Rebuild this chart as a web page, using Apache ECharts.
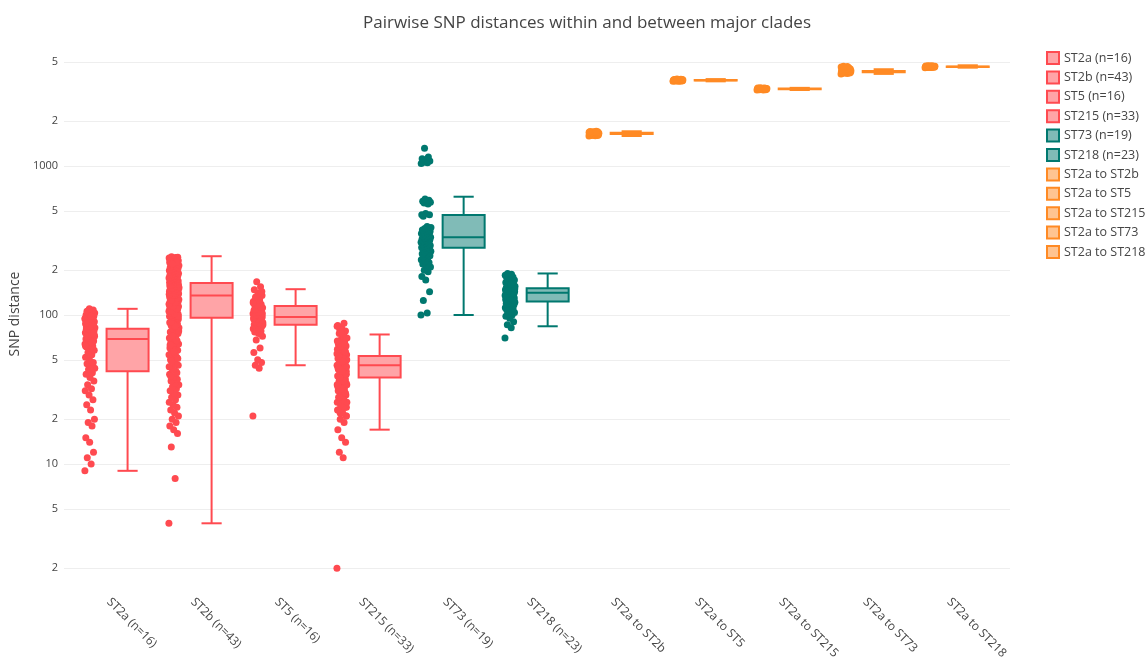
<!DOCTYPE html>
<html>
<head>
<meta charset="utf-8">
<script src="https://cdn.jsdelivr.net/npm/echarts@6/dist/echarts.min.js"></script>
<style>
html, body { margin: 0; padding: 0; background: #fff; }
#chart { width: 1148px; height: 662px; }
</style>
</head>
<body>
<div id="chart"></div>
<script>
// groups, left to right
var categories = ['ST2a (n=16)', 'ST2b (n=43)', 'ST5 (n=16)', 'ST215 (n=33)', 'ST73 (n=19)', 'ST218 (n=23)',
  'ST2a to ST2b', 'ST2a to ST5', 'ST2a to ST215', 'ST2a to ST73', 'ST2a to ST218'];

// box statistics
var boxLow    = [9,   4,   46,  17,  100, 84,  1590, 3700, 3235, 4150, 4570];
var boxQ1     = [42,  96,  86,  38,  283, 123, 1640, 3742, 3270, 4255, 4618];
var boxMedian = [69,  135, 97,  46,  332, 141, 1656, 3758, 3288, 4296, 4636];
var boxQ3     = [81,  164, 115, 53,  469, 151, 1672, 3776, 3306, 4340, 4658];
var boxHigh   = [110, 248, 149, 74,  622, 190, 1710, 3830, 3345, 4460, 4740];

// pairwise distances (points), estimated
var st2aPts = [9, 10, 11, 12, 14, 15, 18, 19, 20, 23, 25, 27, 29, 31, 32, 34, 36, 38, 40,
  41, 43, 44, 46, 47, 48, 50, 52, 54, 56, 58, 60, 61, 62, 63, 64, 65, 66, 67, 68,
  69, 70, 71, 72, 73, 73, 74, 75, 76, 77, 77, 78, 79, 80, 80, 81,
  82, 83, 84, 85, 86, 87, 88, 89, 90, 91, 92, 93, 94, 95, 96, 97, 98, 99, 100, 101, 102, 103, 105, 106, 108, 110,
  62, 66, 70, 74, 78, 82, 86, 90, 94, 98, 72, 76, 84, 88];
var st2bPts = [4, 8, 13, 16, 17, 18, 19, 20, 21, 22, 23, 24, 25, 26, 27, 28, 29, 30, 31, 32, 33, 34, 35, 36, 37, 38,
  40, 42, 44, 46, 48, 50, 52, 53, 54, 55, 56, 58, 59, 60, 61, 62, 64, 65, 66, 67, 69, 70, 71, 73, 75, 76, 77, 79,
  81, 82, 83, 85, 87, 88, 89, 91, 93, 94, 95, 39, 41, 43, 45, 47, 49, 51, 57, 63, 68, 72, 78, 84, 90,
  96, 97, 98, 99, 100, 101, 102, 103, 104, 105, 106, 107, 108, 109, 110, 111, 112, 113, 114, 115, 116, 117, 118,
  119, 120, 121, 122, 123, 124, 125, 126, 127, 128, 129, 130, 131, 132, 133, 134, 98, 102, 106, 110, 114, 118, 122, 126, 130,
  135, 136, 137, 138, 139, 140, 141, 142, 143, 144, 145, 146, 147, 148, 149, 150, 151, 152, 153, 154, 155, 156, 157,
  158, 159, 160, 161, 162, 163, 136, 138, 140, 142, 144, 146, 148, 150, 152, 154, 156, 158, 160, 162,
  165, 166, 168, 169, 171, 172, 174, 175, 177, 178, 180, 181, 183, 185, 186, 188, 190, 191, 193, 195, 197, 199,
  201, 203, 205, 207, 209, 211, 213, 215, 217, 219, 221, 223, 225, 227, 229, 231, 233, 235, 237, 239, 241, 243,
  246, 244, 238, 232, 226, 220];
var st5Pts = [21, 44, 46, 48, 50, 56, 60, 68, 72, 75, 77, 78, 80, 81, 82, 83, 84, 85, 86, 87, 88, 89, 90, 91, 92, 93, 94, 95,
  96, 97, 98, 99, 100, 101, 102, 103, 104, 105, 106, 107, 108, 110, 112, 114, 116, 118, 120, 123, 126, 130, 135,
  140, 148, 155, 167, 86, 88, 90, 92, 94, 96, 98, 100, 102, 104, 109, 113, 117, 121, 125, 132, 144];
var st215Pts = [2, 11, 12, 14, 15, 17, 19, 20, 21, 22, 23, 24, 25, 26, 27, 28, 29, 30, 31, 32, 33, 34, 35, 36, 37, 38,
  39, 40, 41, 42, 43, 44, 45, 46, 46, 47, 48, 49, 50, 51, 52, 53, 54, 55, 56, 57, 58, 59, 60, 61, 62, 63, 64, 66,
  68, 70, 72, 75, 78, 82, 85, 88, 22, 24, 26, 28, 30, 32, 34, 36, 38, 40, 42, 44, 46, 48, 50, 52, 54, 56,
  58, 23, 27, 31, 35, 39, 43, 47, 51, 55, 60, 65, 70, 29, 33, 37, 41, 45, 49, 53, 57, 62, 67, 74, 80,
  21, 22, 23, 24, 25, 26, 27, 28, 30, 32, 34, 36, 38, 40, 42, 44, 64, 76, 84];
var st73Pts = [100, 103, 125, 143, 172, 181, 195, 200, 210, 215, 220, 225, 230, 235, 240, 245, 250, 255, 258, 262, 265,
  268, 272, 275, 278, 281, 284, 287, 290, 293, 296, 299, 302, 305, 308, 311, 314, 317, 320, 323, 326, 329, 332,
  336, 340, 344, 348, 352, 356, 360, 364, 368, 372, 376, 380, 386, 392, 460, 470, 480, 470,
  555, 565, 570, 575, 580, 590, 600, 1040, 1050, 1060, 1080, 1100, 1120, 1150, 1315];
var st218Pts = [70, 82, 86, 90, 95, 98, 100, 102, 104, 106, 108, 110, 111, 112, 114, 115, 117, 118, 119, 120, 121, 122,
  123, 124, 125, 126, 127, 128, 129, 130, 131, 132, 133, 134, 135, 136, 137, 138, 139, 140, 141, 142, 143, 144,
  145, 146, 147, 148, 149, 150, 151, 152, 153, 154, 155, 156, 158, 160, 161, 163, 165, 167, 170, 172, 175, 178,
  180, 183, 185, 188, 190, 125, 130, 135, 140, 145, 150, 160];
var st2aSt2bPts = [1590, 1595, 1600, 1604, 1608, 1612, 1615, 1618, 1622, 1625, 1628, 1631, 1634, 1637, 1640, 1643, 1645,
  1648, 1650, 1653, 1655, 1658, 1660, 1662, 1664, 1666, 1668, 1670, 1672, 1674, 1676, 1678, 1680, 1683, 1686,
  1689, 1692, 1696, 1700, 1705, 1710];
var st2aSt5Pts = [3700, 3706, 3712, 3718, 3722, 3728, 3732, 3735, 3738, 3742, 3745, 3748, 3750, 3752, 3754, 3756, 3758,
  3760, 3762, 3765, 3768, 3770, 3773, 3776, 3779, 3782, 3786, 3790, 3795, 3800, 3806, 3812, 3820, 3830];
var st2aSt215Pts = [3235, 3240, 3245, 3250, 3255, 3258, 3262, 3266, 3270, 3273, 3276, 3279, 3282, 3285, 3288, 3291,
  3294, 3297, 3300, 3303, 3306, 3310, 3314, 3318, 3322, 3327, 3332, 3338, 3345];
var st2aSt73Pts = [4150, 4170, 4190, 4205, 4220, 4230, 4240, 4248, 4255, 4262, 4270, 4278, 4285, 4290, 4296, 4303, 4310,
  4318, 4325, 4332, 4340, 4350, 4360, 4375, 4390, 4405, 4420, 4440, 4460, 4480, 4500, 4530, 4560, 4590, 4620, 4650, 4680];
var st2aSt218Pts = [4570, 4578, 4585, 4592, 4600, 4605, 4610, 4614, 4618, 4622, 4625, 4628, 4632, 4635, 4638, 4641,
  4644, 4647, 4650, 4654, 4658, 4662, 4666, 4671, 4676, 4683, 4690, 4700, 4710];

var groupPoints = [st2aPts, st2bPts, st5Pts, st215Pts, st73Pts, st218Pts,
  st2aSt2bPts, st2aSt5Pts, st2aSt215Pts, st2aSt73Pts, st2aSt218Pts];

// y ticks (log scale)
var yTickValues = [2, 5, 10, 20, 50, 100, 200, 500, 1000, 2000, 5000];
var yTickLabels = ['2', '5', '10', '2', '5', '100', '2', '5', '1000', '2', '5'];

var RED = '#ff4a50', TEAL = '#00786f', ORANGE = '#ff8a24';
var FILL = { '#ff4a50': '#ffa4a7', '#00786f': '#80bbb7', '#ff8a24': '#ffc491' };
var groupColor = [RED, RED, RED, RED, TEAL, TEAL, ORANGE, ORANGE, ORANGE, ORANGE, ORANGE];

var BOX_OFF = 0.224, PT_OFF = -0.224, JITTER = 0.12;
var FONT = 'Open Sans, DejaVu Sans, sans-serif';

var labelOf = {};
yTickValues.forEach(function (v, i) { labelOf[v] = yTickLabels[i]; });

function jitter(k) {
  // evenly spread offsets across the strip
  return ((k * 0.6180339887) % 1) - 0.5;
}

var series = [];
categories.forEach(function (name, i) {
  var color = groupColor[i];
  series.push({
    name: name,
    type: 'scatter',
    symbolSize: 7,
    itemStyle: { color: color, opacity: 1 },
    silent: true,
    data: groupPoints[i].map(function (v, k) {
      return [i + PT_OFF + jitter(k) * JITTER, Math.log10(v)];
    })
  });
  series.push({
    name: name,
    type: 'custom',
    silent: true,
    itemStyle: { color: FILL[color], borderColor: color, borderWidth: 2 },
    data: [[i, Math.log10(boxLow[i]), Math.log10(boxQ1[i]), Math.log10(boxMedian[i]),
      Math.log10(boxQ3[i]), Math.log10(boxHigh[i])]],
    renderItem: function (params, api) {
      var x = api.value(0) + BOX_OFF;
      var lo = api.coord([x, api.value(1)]);
      var q1 = api.coord([x, api.value(2)]);
      var md = api.coord([x, api.value(3)]);
      var q3 = api.coord([x, api.value(4)]);
      var hi = api.coord([x, api.value(5)]);
      var bw = api.size([0.5, 0])[0];
      var cw = bw * 0.48;
      var cx = lo[0];
      var ls = { stroke: color, lineWidth: 2 };
      return {
        type: 'group',
        children: [
          { type: 'line', shape: { x1: cx, y1: lo[1], x2: cx, y2: q1[1] }, style: ls },
          { type: 'line', shape: { x1: cx, y1: q3[1], x2: cx, y2: hi[1] }, style: ls },
          { type: 'line', shape: { x1: cx - cw / 2, y1: lo[1], x2: cx + cw / 2, y2: lo[1] }, style: ls },
          { type: 'line', shape: { x1: cx - cw / 2, y1: hi[1], x2: cx + cw / 2, y2: hi[1] }, style: ls },
          { type: 'rect', shape: { x: cx - bw / 2, y: q3[1], width: bw, height: q1[1] - q3[1] },
            style: { fill: FILL[color], stroke: color, lineWidth: 2 } },
          { type: 'line', shape: { x1: cx - bw / 2, y1: md[1], x2: cx + bw / 2, y2: md[1] }, style: ls }
        ]
      };
    }
  });
});

var chart = echarts.init(document.getElementById('chart'));
var option = {
  backgroundColor: '#fff',
  animation: false,
  title: {
    text: 'Pairwise SNP distances within and between major clades',
    left: 582,
    textAlign: 'center',
    top: 10,
    textStyle: { fontFamily: FONT, fontSize: 17, fontWeight: 'normal', color: '#444' }
  },
  legend: {
    orient: 'vertical',
    left: 1041,
    top: 46,
    itemWidth: 12,
    itemHeight: 12,
    itemGap: 5.4,
    textStyle: { fontFamily: FONT, fontSize: 12.5, color: '#444', lineHeight: 12 },
    data: categories.map(function (name, i) {
      return {
        name: name,
        icon: 'rect',
        itemStyle: { color: FILL[groupColor[i]], borderColor: groupColor[i], borderWidth: 2 }
      };
    })
  },
  grid: { left: 57, right: 138, top: 38, bottom: 72 },
  xAxis: {
    type: 'value',
    min: -0.532,
    max: 10.727,
    axisLine: { show: false },
    axisTick: { show: false },
    splitLine: { show: false },
    axisLabel: {
      customValues: categories.map(function (c, i) { return i; }),
      formatter: function (v) { return categories[Math.round(v)]; },
      rotate: -45,
      margin: 10,
      fontFamily: FONT,
      fontSize: 12,
      color: '#444'
    }
  },
  yAxis: {
    type: 'value',
    min: 0.1544,
    max: 3.859,
    name: 'SNP distance',
    nameLocation: 'middle',
    nameGap: 27,
    nameTextStyle: { fontFamily: FONT, fontSize: 14, color: '#444' },
    axisLine: { show: false },
    axisTick: { show: false, customValues: yTickValues.map(function (v) { return Math.log10(v); }) },
    splitLine: { show: true, lineStyle: { color: '#eeeeee', width: 1 } },
    axisLabel: {
      customValues: yTickValues.map(function (v) { return Math.log10(v); }),
      formatter: function (v) { return labelOf[Math.round(Math.pow(10, v))]; },
      margin: 6,
      fontFamily: FONT,
      fontSize: 11,
      color: '#444'
    }
  },
  series: series
};
chart.setOption(option);
window.addEventListener('resize', function () { chart.resize(); });
</script>
</body>
</html>
